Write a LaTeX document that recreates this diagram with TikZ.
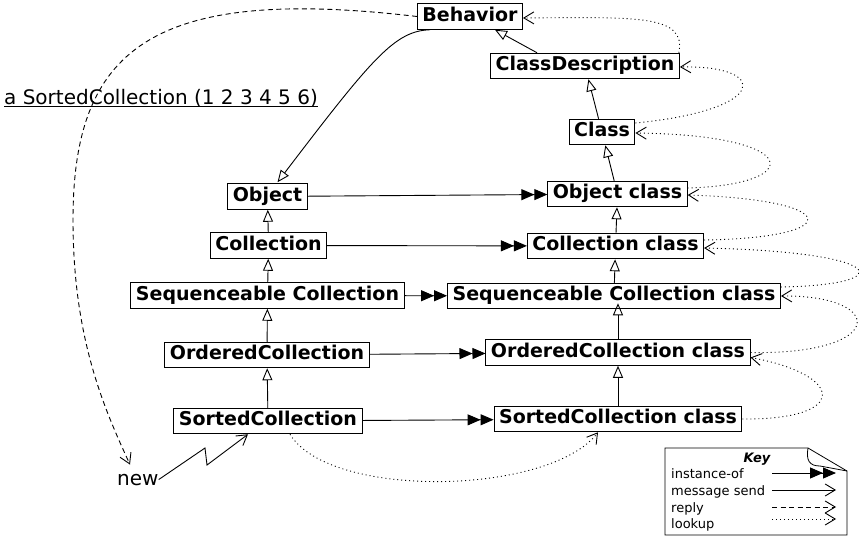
\documentclass[tikz,border=0pt]{standalone}
\usepackage{fontspec}
\setmainfont{DejaVu Sans}
\usetikzlibrary{arrows.meta, positioning}

\newcommand{\clsfont}{\fontsize{19}{21}\selectfont\bfseries}
\newcommand{\plainfont}{\fontsize{20}{24}\selectfont}
\newcommand{\keyfont}{\fontsize{13}{15}\selectfont}

\begin{document}
\begin{tikzpicture}[
    x=1pt, y=-1pt,
    cls/.style={draw, line width=1pt, font=\clsfont, inner xsep=5pt, inner ysep=3.5pt, text height=14pt, text depth=4.5pt},
    plain/.style={font=\plainfont, inner sep=0pt},
    keytxt/.style={font=\keyfont, inner sep=0pt, anchor=base west},
    inherit/.style={-{Triangle[open, length=12pt, width=10pt]}, line width=0.9pt},
    instof/.style={-{Triangle[length=13pt, width=11pt]Triangle[length=13pt, width=11pt]}, line width=0.9pt},
    msg/.style={-{Straight Barb[length=10pt, width=12pt]}, line width=0.9pt},
    reply/.style={msg, dash pattern=on 5pt off 3.5pt},
    lookup/.style={msg, dash pattern=on 1pt off 3pt},
]
\useasboundingbox (0,0) rectangle (859,540);

% instances
\node[cls] (object) at (267.5,196.5) {Object};
\node[cls] (collection) at (268.5,245.5) {Collection};
\node[cls] (seqcoll) at (267.5,295.5) {Sequenceable Collection};
\node[cls] (ordcoll) at (267,355) {OrderedCollection};
\node[cls] (sortcoll) at (268,421) {SortedCollection};

% metaclasses
\node[cls] (behavior) at (470,16.5) {Behavior};
\node[cls] (classdesc) at (585,66) {ClassDescription};
\node[cls] (class) at (602,132) {Class};
\node[cls] (objclass) at (617.5,194) {Object class};
\node[cls] (collclass) at (615.5,246) {Collection class};
\node[cls] (seqclass) at (614,296) {Sequenceable Collection class};
\node[cls] (ordclass) at (618,352.5) {OrderedCollection class};
\node[cls] (sortclass) at (618,419) {SortedCollection class};

\node[plain, anchor=base west] (instance) at (4,105) {\underline{\smash{a SortedCollection (1 2 3 4 5 6)}}};
\node[plain, anchor=base west] (new) at (117,485) {new};

% instance-of
\draw[instof] (object) -- (objclass);
\draw[instof] (collection) -- (collclass);
\draw[instof] (seqcoll) -- (seqclass);
\draw[instof] (ordcoll) -- (ordclass);
\draw[instof] (sortcoll) -- (sortclass);

% superclass links
\draw[inherit] (collection) -- (object);
\draw[inherit] (seqcoll) -- (collection);
\draw[inherit] (ordcoll) -- (seqcoll);
\draw[inherit] (sortcoll) -- (ordcoll);
\draw[inherit] (sortclass) -- (ordclass);
\draw[inherit] (ordclass.north) -- ([yshift=6pt]seqclass.south -| ordclass.north);
\draw[inherit] (seqclass) -- (collclass);
\draw[inherit] (collclass) -- (objclass);
\draw[inherit] (objclass) -- (class);
\draw[inherit] (class) -- (classdesc);
\draw[inherit] ([xshift=-48pt]classdesc.north) -- ([xshift=25pt]behavior.south);
\draw[inherit] ([xshift=13pt]behavior.south west) .. controls (395,31) and (373,57) .. ([xshift=10pt,yshift=1pt]object.north);

% message send and reply
\draw[msg] (new.east) -- (205,448) -- (207,465) -- ([xshift=-20pt]sortcoll.south);
\draw[reply] (behavior.west) .. controls (150,-15) and (73,50) .. (73,220)
    .. controls (73,340) and (105,410) .. ([xshift=13pt,yshift=9pt]new.north west);

% lookup
\draw[lookup] ([xshift=22pt]sortcoll.south) .. controls (330,500) and (550,495) .. ([xshift=-20pt]sortclass.south);
\draw[lookup] (sortclass.east) .. controls (850,420) and (845,375) .. ([yshift=-5pt]ordclass.east);
\draw[lookup] (ordclass.east) .. controls (887,355) and (887,295) .. (seqclass.east);
\draw[lookup] ([yshift=9pt]seqclass.east) .. controls (900,285) and (890,252) .. ([yshift=-2pt]collclass.east);
\draw[lookup] ([yshift=6pt]collclass.east) .. controls (845,238) and (845,200) .. ([yshift=-1pt]objclass.east);
\draw[lookup] ([yshift=6pt]objclass.east) .. controls (805,185) and (805,135) .. ([yshift=-1pt]class.east);
\draw[lookup] ([yshift=9pt]class.east) .. controls (770,110) and (770,65) .. ([yshift=-1pt]classdesc.east);
\draw[lookup] ([xshift=-1pt]classdesc.north east) .. controls (686,15) and (640,17) .. ([yshift=-1.5pt]behavior.east);

% key
\draw[line width=0.8pt] (665,448) -- (808,448) -- (847,471) -- (847,535) -- (665,535) -- cycle;
\draw[line width=0.8pt] (808,448) .. controls (806,460) and (809,466) .. (820,466) -- (847,471);
\node[font=\keyfont\bfseries\itshape, inner sep=0pt, anchor=base] (keytitle) at (757,462) {Key};
\foreach \n/\y/\ly/\t/\s in {a/478/473/instance-of/instof, b/495/490/message send/msg, c/512/507/reply/reply, d/528/519/lookup/lookup} {
    \node[keytxt] (key\n) at (671,\y) {\t};
    \coordinate (key\n s) at (772,\ly);
    \coordinate (key\n e) at (836,\ly);
    \draw[\s] (key\n s) -- (key\n e);
}

\end{tikzpicture}
\end{document}
